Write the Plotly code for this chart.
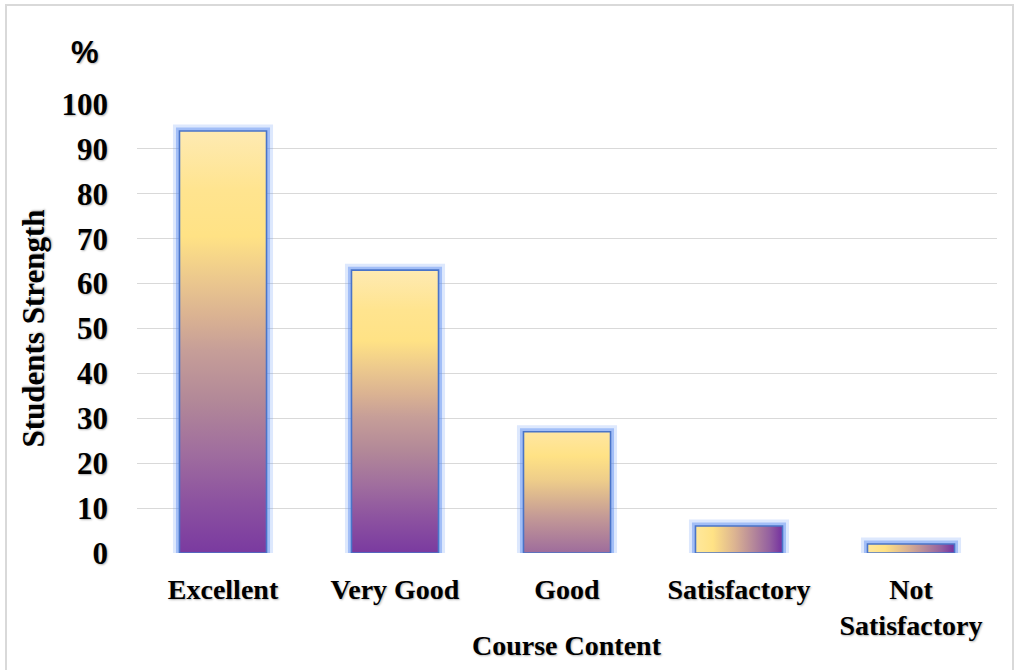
import plotly.graph_objects as go

categories = ["Excellent", "Very Good", "Good", "Satisfactory", "Not<br>Satisfactory"]
values = [94, 63, 27, 6, 2]
y_ticks = [0, 10, 20, 30, 40, 50, 60, 70, 80, 90, 100]

BAR_W = 0.506
FONT = "Liberation Serif, Times New Roman, serif"
SHADOW = "1px 1px 2px rgba(0,0,0,0.3)"

# gradient scales (yellow -> purple)
vert_scale = [
    [0.0, "#7a3aa0"], [0.12, "#8c52a0"], [0.24, "#a06e9e"], [0.36, "#b28898"],
    [0.48, "#c69e98"], [0.56, "#dab292"], [0.64, "#eac68e"], [0.75, "#ffe285"],
    [0.86, "#ffe48f"], [1.0, "#feeab2"],
]
mid_scale = [
    [0.0, "#9e6c9c"], [0.3, "#c49a96"], [0.6, "#eecd8a"], [0.8, "#ffe285"], [1.0, "#ffe6a2"],
]
horiz_scale = [
    [0.0, "#ffe89c"], [0.2, "#ffe285"], [0.45, "#dcb491"], [0.65, "#b88b99"],
    [0.85, "#9460a0"], [1.0, "#7430a0"],
]

idx = list(range(len(categories)))
fig = go.Figure()

# glow layers (bars with thick translucent outlines)
fig.add_trace(go.Bar(x=idx, y=values, width=BAR_W,
                     marker=dict(color="rgba(120,160,245,0.0)",
                                 line=dict(color="rgba(100,150,245,0.22)", width=13)),
                     hoverinfo="skip", showlegend=False))
fig.add_trace(go.Bar(x=idx, y=values, width=BAR_W,
                     marker=dict(color="#ffe285",
                                 line=dict(color="rgba(90,140,240,0.45)", width=7)),
                     showlegend=False))

# gradient fills for each bar
for i, v in enumerate(values):
    x0, x1 = i - BAR_W / 2, i + BAR_W / 2
    if v >= 40:
        grad = dict(type="vertical", colorscale=vert_scale)
    elif v >= 15:
        grad = dict(type="vertical", colorscale=mid_scale)
    else:
        grad = dict(type="horizontal", colorscale=horiz_scale)
    fig.add_trace(go.Scatter(
        x=[x0, x1, x1, x0, x0], y=[0, 0, v, v, 0],
        mode="lines", fill="toself", fillgradient=grad,
        line=dict(color="#4a74c8", width=1.6),
        hoverinfo="skip", showlegend=False))

fig.update_layout(
    width=1014, height=670,
    margin=dict(l=137, r=17, t=104, b=117),
    paper_bgcolor="white", plot_bgcolor="white",
    barmode="overlay",
    font=dict(family=FONT, color="black"),
    xaxis=dict(range=[-0.5, 4.5], tickvals=idx, ticktext=categories,
               showgrid=False, zeroline=False, showline=False, ticks="",
               ticklabelstandoff=17,
               tickfont=dict(family=FONT, size=28, weight="bold", shadow=SHADOW)),
    yaxis=dict(range=[0, 100], tickvals=y_ticks, showgrid=True,
               gridcolor="#d9d9d9", gridwidth=1.4, zeroline=False, showline=False,
               ticks="", ticklabelstandoff=28,
               tickfont=dict(family=FONT, size=31, weight="bold", shadow=SHADOW),
               title=dict(text="Students Strength", standoff=7,
                          font=dict(family=FONT, size=31, weight="bold", shadow=SHADOW))),
    annotations=[
        dict(text="Course Content", xref="paper", yref="paper", x=0.5, y=-0.205,
             xanchor="center", yanchor="middle", showarrow=False,
             font=dict(family=FONT, size=28, weight="bold", shadow=SHADOW)),
        dict(text="%", xref="paper", yref="paper", x=-0.06, y=1.115,
             xanchor="center", yanchor="middle", showarrow=False,
             font=dict(family="Liberation Sans, Arial, sans-serif", size=31,
                       weight="bold", shadow=SHADOW)),
    ],
    shapes=[
        dict(type="rect", xref="paper", yref="paper",
             x0=(6 - 137) / 860, x1=(1013 - 137) / 860,
             y0=-0.3, y1=(553 - 5) / 449,
             line=dict(color="#d9d9d9", width=2), fillcolor="rgba(0,0,0,0)", layer="below"),
    ],
)

fig.write_html("out.html", config={"displayModeBar": False},
               post_script="document.body.style.margin='0';document.body.style.padding='0';")
